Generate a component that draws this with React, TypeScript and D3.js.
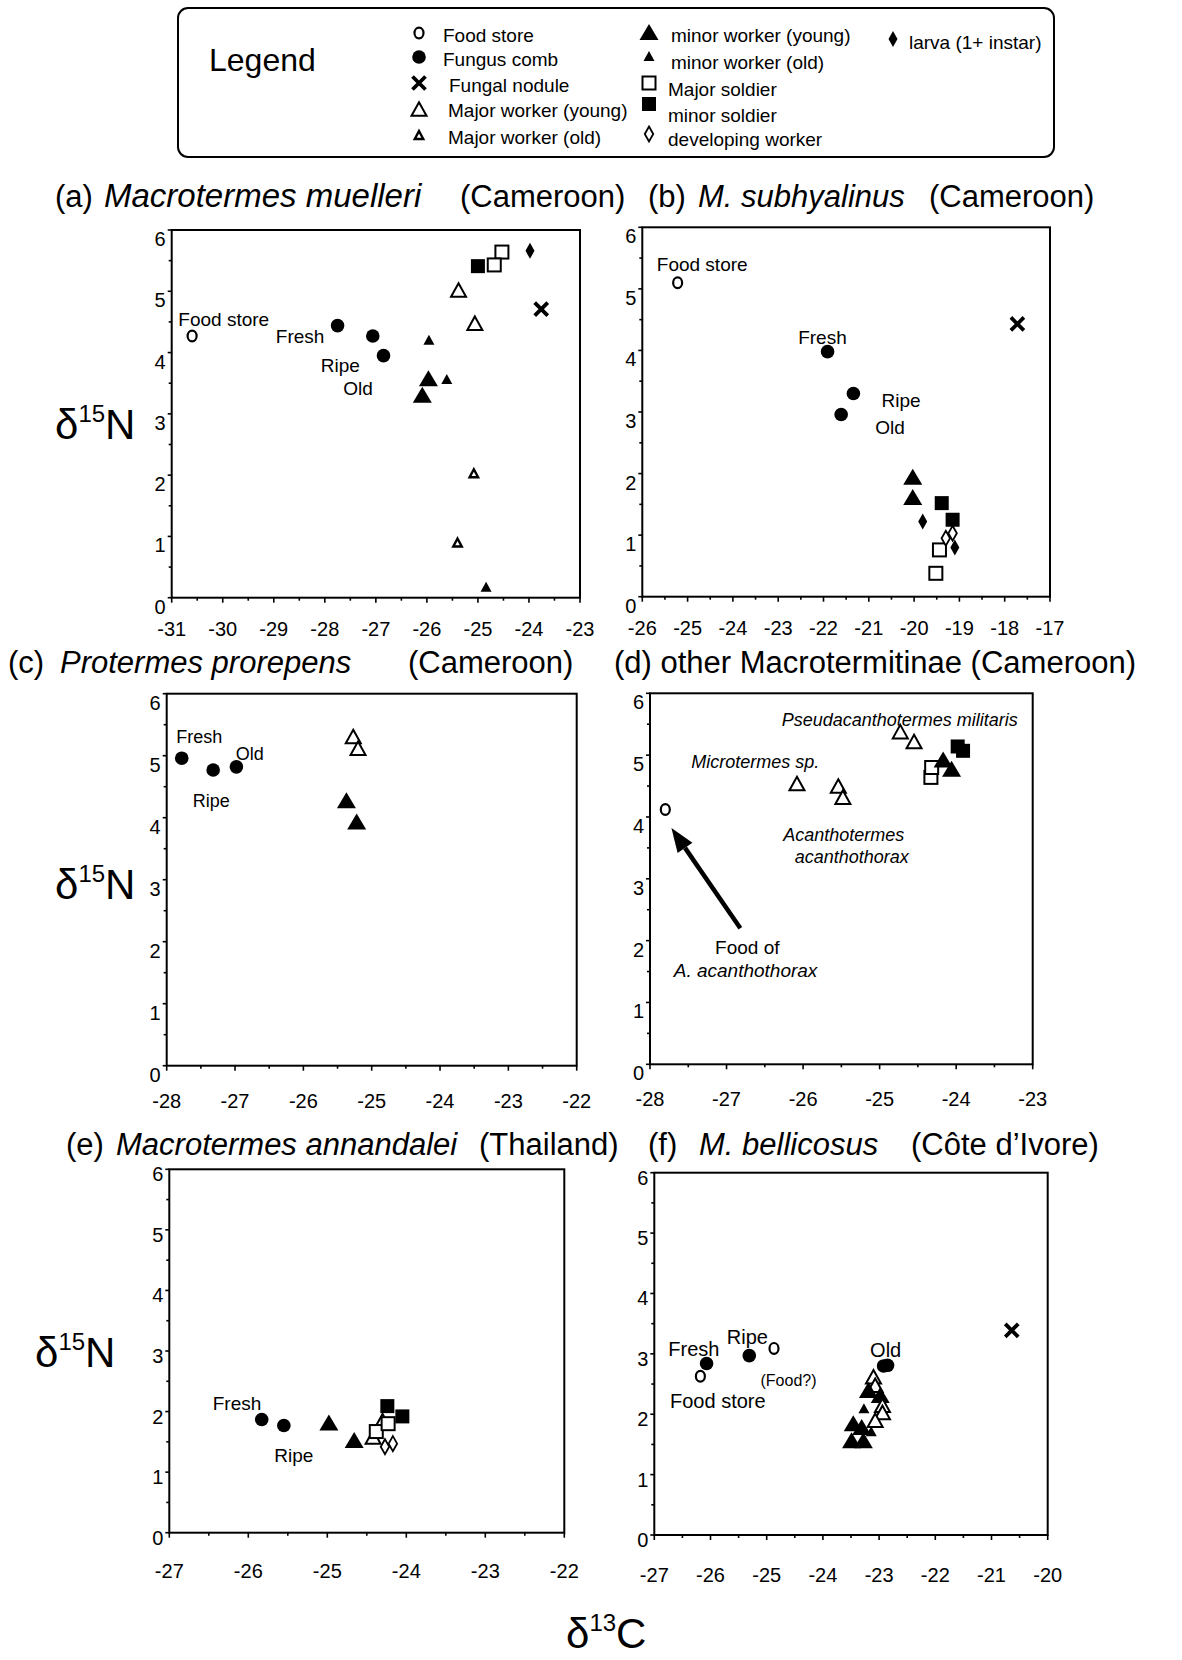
import React, { useEffect, useRef } from 'react';
import * as d3 from 'd3';

const W = 1182;
const H = 1660;
const FONT = '"Liberation Sans", Arial, Helvetica, sans-serif';

// marker codes: food = Food store, comb = Fungus comb, nodule = Fungal nodule,
// majY / majO = Major worker (young/old), minY / minO = minor worker (young/old),
// majS = Major soldier, minS = minor soldier, dev = developing worker, larva = larva
const pointsA = [
  ['food', -30.6, 4.27],
  ['comb', -27.75, 4.44], ['comb', -27.06, 4.27], ['comb', -26.85, 3.95],
  ['minO', -25.96, 4.21], ['minY', -25.97, 3.58], ['minY', -26.09, 3.31], ['minO', -25.61, 3.57],
  ['majO', -25.08, 2.03], ['majO', -25.4, 0.9], ['minO', -24.84, 0.18],
  ['majY', -25.38, 5.02], ['majY', -25.06, 4.48],
  ['minS', -25.0, 5.41], ['majS', -24.53, 5.64], ['majS', -24.68, 5.43],
  ['larva', -23.98, 5.66], ['nodule', -23.76, 4.71],
];
const pointsB = [
  ['food', -25.22, 5.1],
  ['comb', -21.91, 3.98], ['comb', -21.34, 3.3], ['comb', -21.61, 2.96],
  ['nodule', -17.72, 4.43],
  ['minY', -20.03, 1.95], ['minY', -20.03, 1.62],
  ['larva', -19.81, 1.22],
  ['minS', -19.39, 1.52], ['minS', -19.15, 1.25],
  ['majS', -19.44, 0.76], ['majS', -19.52, 0.38],
  ['dev', -19.3, 0.95], ['dev', -19.15, 1.03], ['larva', -19.1, 0.8],
];
const pointsC = [
  ['comb', -27.78, 4.96], ['comb', -27.32, 4.77], ['comb', -26.98, 4.82],
  ['majY', -25.27, 5.31], ['majY', -25.2, 5.12],
  ['minY', -25.37, 4.28], ['minY', -25.22, 3.94],
];
const pointsD = [
  ['food', -27.8, 4.12],
  ['majY', -26.08, 4.54], ['majY', -25.54, 4.5], ['majY', -25.48, 4.32],
  ['majY', -24.73, 5.38], ['majY', -24.55, 5.22],
  ['majS', -24.33, 4.64], ['majS', -24.32, 4.8],
  ['minY', -24.17, 4.93], ['minY', -24.06, 4.78],
  ['minS', -23.98, 5.14], ['minS', -23.91, 5.07],
];
const pointsE = [
  ['comb', -25.83, 1.87], ['comb', -25.55, 1.77],
  ['minY', -24.98, 1.82], ['minY', -24.66, 1.53],
  ['majY', -24.3, 1.85], ['majY', -24.42, 1.58],
  ['majS', -24.38, 1.67],
  ['minS', -24.24, 2.09], ['minS', -24.05, 1.92],
  ['majS', -24.23, 1.8],
  ['dev', -24.27, 1.42], ['dev', -24.17, 1.47],
];
const pointsF = [
  ['food', -26.18, 2.63], ['food', -24.87, 3.09],
  ['comb', -26.07, 2.84], ['comb', -25.31, 2.97], ['comb', -22.92, 2.8], ['comb', -22.85, 2.81],
  ['nodule', -20.64, 3.39],
  ['majY', -23.1, 2.62], ['majY', -23.07, 2.48],
  ['minY', -23.19, 2.4], ['minY', -22.98, 2.32],
  ['majY', -22.94, 2.15], ['majY', -22.94, 2.03], ['majY', -23.07, 1.9],
  ['minO', -23.27, 2.1], ['minO', -23.14, 1.72],
  ['minY', -23.46, 1.85], ['minY', -23.31, 1.79], ['minY', -23.49, 1.57], ['minY', -23.28, 1.57],
];

// annotation text: [text, x, y (text middle), italic, font size]
const notesA = [
  ['Food store', -30.87, 4.54, false, 19], ['Fresh', -28.96, 4.26, false, 19],
  ['Ripe', -28.08, 3.8, false, 19], ['Old', -27.64, 3.42, false, 19],
];
const notesB = [
  ['Food store', -25.68, 5.4, false, 19], ['Fresh', -22.56, 4.22, false, 19],
  ['Ripe', -20.72, 3.19, false, 19], ['Old', -20.86, 2.75, false, 19],
];
const notesC = [
  ['Fresh', -27.86, 5.31, false, 18], ['Old', -26.99, 5.04, false, 18], ['Ripe', -27.62, 4.27, false, 18],
];
const notesD = [
  ['Pseudacanthotermes militaris', -26.28, 5.57, true, 18],
  ['Microtermes sp.', -27.46, 4.89, true, 18],
  ['Acanthotermes', -26.26, 3.71, true, 18],
  ['acanthothorax', -26.11, 3.36, true, 18],
  ['Food of', -27.15, 1.9, false, 19],
  ['A. acanthothorax', -27.69, 1.53, true, 19],
];
const notesE = [
  ['Fresh', -26.45, 2.14, false, 19], ['Ripe', -25.67, 1.28, false, 19],
];
const notesF = [
  ['Fresh', -26.75, 3.09, false, 20], ['Ripe', -25.71, 3.28, false, 20],
  ['(Food?)', -25.11, 2.56, false, 16], ['Food store', -26.72, 2.22, false, 20],
  ['Old', -23.16, 3.06, false, 20],
];
// arrow in (d): tail -> head, data units
const arrowD = [[-26.82, 2.2], [-27.72, 3.82]];

const xTicksA = [-31, -30, -29, -28, -27, -26, -25, -24, -23];
const xTicksB = [-26, -25, -24, -23, -22, -21, -20, -19, -18, -17];
const xTicksC = [-28, -27, -26, -25, -24, -23, -22];
const xTicksD = [-28, -27, -26, -25, -24, -23];
const xTicksE = [-27, -26, -25, -24, -23, -22];
const xTicksF = [-27, -26, -25, -24, -23, -22, -21, -20];
const yTicks = [0, 1, 2, 3, 4, 5, 6];

// titles: [text, italic, x, font size]
const titleA = [['(a)', false, 55, 31], ['Macrotermes muelleri', true, 104, 33], ['(Cameroon)', false, 460, 31]];
const titleB = [['(b)', false, 648, 31], ['M. subhyalinus', true, 698, 31], ['(Cameroon)', false, 929, 31]];
const titleC = [['(c)', false, 8, 31], ['Protermes prorepens', true, 60, 31], ['(Cameroon)', false, 408, 31]];
const titleD = [['(d) other Macrotermitinae (Cameroon)', false, 614, 31]];
const titleE = [['(e)', false, 66, 31], ['Macrotermes annandalei', true, 116, 31], ['(Thailand)', false, 479, 31]];
const titleF = [['(f)', false, 648, 31], ['M. bellicosus', true, 699, 31], ['(Côte d\u2019Ivore)', false, 911, 31]];

const legendCol1 = [
  ['food', 'Food store'], ['comb', 'Fungus comb'], ['nodule', 'Fungal nodule'],
  ['majY', 'Major worker (young)'], ['majO', 'Major worker (old)'],
];
const legendCol2 = [
  ['minY', 'minor worker (young)'], ['minO', 'minor worker (old)'], ['majS', 'Major soldier'],
  ['minS', 'minor soldier'], ['dev', 'developing worker'],
];
const legendCol3 = [['larva', 'larva (1+ instar)']];

const panels = [
  { points: pointsA, notes: notesA, xTicks: xTicksA, frame: [171.7, 230, 580, 597.7], xdy: 38, ydy: 16, title: titleA, titleY: 207 },
  { points: pointsB, notes: notesB, xTicks: xTicksB, frame: [642.3, 227.3, 1050, 596.7], xdy: 38, ydy: 16, title: titleB, titleY: 207 },
  { points: pointsC, notes: notesC, xTicks: xTicksC, frame: [166.7, 693.7, 576.7, 1065.7], xdy: 42, ydy: 16, title: titleC, titleY: 673 },
  { points: pointsD, notes: notesD, xTicks: xTicksD, frame: [650, 693.3, 1032.7, 1064.3], xdy: 42, ydy: 16, title: titleD, titleY: 673, arrow: arrowD },
  { points: pointsE, notes: notesE, xTicks: xTicksE, frame: [169.3, 1169.3, 564.3, 1532.7], xdy: 45, ydy: 12, title: titleE, titleY: 1155 },
  { points: pointsF, notes: notesF, xTicks: xTicksF, frame: [654.3, 1172.7, 1047.7, 1535], xdy: 47, ydy: 12, title: titleF, titleY: 1155 },
];

const tri = (cx, cy, w, h) => `M${cx},${cy - h / 2}L${cx + w / 2},${cy + h / 2}L${cx - w / 2},${cy + h / 2}Z`;
const dia = (cx, cy, w, h) => `M${cx},${cy - h / 2}L${cx + w / 2},${cy}L${cx},${cy + h / 2}L${cx - w / 2},${cy}Z`;

function drawMarker(g, type, cx, cy) {
  const open = (sel, sw = 2) => sel.attr('fill', '#fff').attr('stroke', '#000').attr('stroke-width', sw);
  switch (type) {
    case 'food':
      open(g.append('ellipse').attr('cx', cx).attr('cy', cy).attr('rx', 4.5).attr('ry', 5.4), 2.2);
      break;
    case 'comb':
      g.append('circle').attr('cx', cx).attr('cy', cy).attr('r', 6.8).attr('fill', '#000');
      break;
    case 'nodule':
      g.append('path')
        .attr('d', `M${cx - 6.5},${cy - 6.5}L${cx + 6.5},${cy + 6.5}M${cx + 6.5},${cy - 6.5}L${cx - 6.5},${cy + 6.5}`)
        .attr('stroke', '#000').attr('stroke-width', 3.8).attr('fill', 'none');
      break;
    case 'majY':
      open(g.append('path').attr('d', tri(cx, cy, 15, 13.5)));
      break;
    case 'majO':
      open(g.append('path').attr('d', tri(cx, cy, 8.5, 8)), 2.4);
      break;
    case 'minY':
      g.append('path').attr('d', tri(cx, cy, 19, 16)).attr('fill', '#000');
      break;
    case 'minO':
      g.append('path').attr('d', tri(cx, cy, 11, 10)).attr('fill', '#000');
      break;
    case 'majS':
      open(g.append('rect').attr('x', cx - 6.5).attr('y', cy - 6.5).attr('width', 13).attr('height', 13));
      break;
    case 'minS':
      g.append('rect').attr('x', cx - 7).attr('y', cy - 7).attr('width', 14).attr('height', 14).attr('fill', '#000');
      break;
    case 'dev':
      open(g.append('path').attr('d', dia(cx, cy, 8.5, 15)), 1.8);
      break;
    case 'larva':
      g.append('path').attr('d', dia(cx, cy, 9, 16)).attr('fill', '#000');
      break;
    default:
      break;
  }
}

function drawPanel(svg, p) {
  const [x0, y0, x1, y1] = p.frame;
  const xs = d3.scaleLinear().domain([p.xTicks[0], p.xTicks[p.xTicks.length - 1]]).range([x0, x1]);
  const ys = d3.scaleLinear().domain([0, 6]).range([y1, y0]);
  const g = svg.append('g');

  // title
  const t = g.append('text').attr('y', p.titleY).attr('fill', '#000');
  p.title.forEach(([txt, it, x, fs]) => {
    t.append('tspan').attr('x', x).style('font-size', `${fs}px`)
      .style('font-style', it ? 'italic' : 'normal').text(txt);
  });

  // frame
  g.append('rect').attr('x', x0).attr('y', y0).attr('width', x1 - x0).attr('height', y1 - y0)
    .attr('fill', 'none').attr('stroke', '#000').attr('stroke-width', 2);

  // x ticks (major + half-step minor), outward
  const xt = g.append('g').attr('stroke', '#000').attr('stroke-width', 1.6);
  p.xTicks.forEach((v, i) => {
    xt.append('line').attr('x1', xs(v)).attr('x2', xs(v)).attr('y1', y1).attr('y2', y1 + 5);
    if (i < p.xTicks.length - 1) {
      const m = v + 0.5;
      xt.append('line').attr('x1', xs(m)).attr('x2', xs(m)).attr('y1', y1).attr('y2', y1 + 3);
    }
  });
  g.append('g').selectAll('text').data(p.xTicks).enter().append('text')
    .attr('x', d => xs(d)).attr('y', y1 + p.xdy)
    .attr('text-anchor', 'middle').style('font-size', '20px').text(d => d);

  // y ticks
  const yt = g.append('g').attr('stroke', '#000').attr('stroke-width', 1.6);
  yTicks.forEach((v, i) => {
    yt.append('line').attr('x1', x0).attr('x2', x0 - 4).attr('y1', ys(v)).attr('y2', ys(v));
    if (i < yTicks.length - 1) {
      const m = v + 0.5;
      yt.append('line').attr('x1', x0).attr('x2', x0 - 3).attr('y1', ys(m)).attr('y2', ys(m));
    }
  });
  g.append('g').selectAll('text').data(yTicks).enter().append('text')
    .attr('x', x0 - 6).attr('y', d => ys(d) + p.ydy)
    .attr('text-anchor', 'end').style('font-size', '20px').text(d => d);

  // notes
  p.notes.forEach(([txt, x, y, it, fs]) => {
    g.append('text').attr('x', xs(x)).attr('y', ys(y) + fs * 0.36)
      .style('font-size', `${fs}px`).style('font-style', it ? 'italic' : 'normal').text(txt);
  });

  // arrow
  if (p.arrow) {
    const [[tx, ty], [hx, hy]] = p.arrow;
    const ax = xs(tx), ay = ys(ty), bx = xs(hx), by = ys(hy);
    const ang = Math.atan2(by - ay, bx - ax);
    const len = 24, half = 9;
    const baseX = bx - len * Math.cos(ang), baseY = by - len * Math.sin(ang);
    g.append('line').attr('x1', ax).attr('y1', ay).attr('x2', baseX).attr('y2', baseY)
      .attr('stroke', '#000').attr('stroke-width', 4.5);
    g.append('path')
      .attr('d', `M${bx},${by}L${baseX + half * Math.sin(ang)},${baseY - half * Math.cos(ang)}L${baseX - half * Math.sin(ang)},${baseY + half * Math.cos(ang)}Z`)
      .attr('fill', '#000');
  }

  // points
  const pg = g.append('g');
  p.points.forEach(([type, x, y]) => drawMarker(pg, type, xs(x), ys(y)));
}

export default function App() {
  const svgRef = useRef(null);

  useEffect(() => {
    document.body.style.margin = '0';
    const svg = d3.select(svgRef.current);
    svg.selectAll('*').remove();
    svg.append('rect').attr('width', W).attr('height', H).attr('fill', '#fff');

    // legend box
    const lg = svg.append('g');
    lg.append('rect').attr('x', 178).attr('y', 8).attr('width', 876).attr('height', 149)
      .attr('rx', 10).attr('fill', 'none').attr('stroke', '#000').attr('stroke-width', 2);
    lg.append('text').attr('x', 209).attr('y', 71).style('font-size', '32px').text('Legend');

    const col1TextY = [35, 59, 85, 110, 137];
    const col1SymY = [33, 57, 83, 109, 135];
    const col1TextX = [443, 443, 449, 448, 448];
    legendCol1.forEach(([type, label], i) => {
      drawMarker(lg, type, 419, col1SymY[i]);
      lg.append('text').attr('x', col1TextX[i]).attr('y', col1TextY[i] + 7).style('font-size', '19px').text(label);
    });
    const col2TextY = [35, 62, 89, 115, 139];
    const col2SymY = [32, 56, 83, 104, 134];
    const col2TextX = [671, 671, 668, 668, 668];
    legendCol2.forEach(([type, label], i) => {
      drawMarker(lg, type, 649, col2SymY[i]);
      lg.append('text').attr('x', col2TextX[i]).attr('y', col2TextY[i] + 7).style('font-size', '19px').text(label);
    });
    legendCol3.forEach(([type, label]) => {
      drawMarker(lg, type, 893, 39);
      lg.append('text').attr('x', 909).attr('y', 49).style('font-size', '19px').text(label);
    });

    panels.forEach(p => drawPanel(svg, p));

    // axis titles
    const d15 = [[55, 439], [55, 899], [35, 1367]];
    d15.forEach(([x, y]) => {
      const t = svg.append('text').attr('x', x).attr('y', y).style('font-size', '42px');
      t.append('tspan').text('\u03B4');
      t.append('tspan').attr('dy', -17).style('font-size', '24px').text('15');
      t.append('tspan').attr('dy', 17).text('N');
    });
    const c = svg.append('text').attr('x', 566).attr('y', 1648).style('font-size', '42px');
    c.append('tspan').text('\u03B4');
    c.append('tspan').attr('dy', -17).style('font-size', '24px').text('13');
    c.append('tspan').attr('dy', 17).text('C');
  }, []);

  return (
    <svg ref={svgRef} width={W} height={H} style={{ display: 'block', fontFamily: FONT }} />
  );
}
